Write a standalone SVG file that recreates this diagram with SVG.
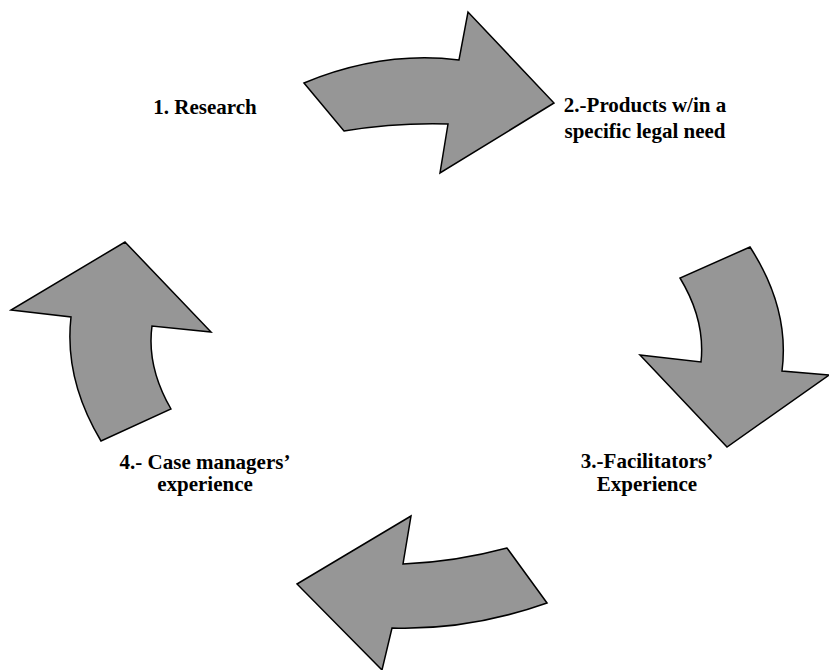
<svg xmlns="http://www.w3.org/2000/svg" width="829" height="670" viewBox="0 0 829 670">
<style>
.arrow{fill:#969696;stroke:#000;stroke-width:1.5;stroke-linejoin:miter}
.lbl{font-family:"Liberation Serif","Times New Roman",serif;font-weight:bold;font-size:21px;fill:#000;text-anchor:middle}
</style>
<rect width="829" height="670" fill="#fff"/>
<g id="connectors">
<path id="arrow1" class="arrow" d="M304,83 Q382.5,50.5 459,60 L468,12 L554,103 L440,173 L448,124 Q396,122.5 344,131 Z"/>
<path id="arrow2" class="arrow" d="M750,247 L680,278 Q705.5,320 701,362 L640,355 L727,447 L829,375 L782,371 Q790,309 750,247 Z"/>
<path id="arrow3" class="arrow" d="M411,516 L297,584 L382,670 L392,628 Q469,630.5 547,603 L507,548 Q455,562 403,564 Z"/>
<path id="arrow4" class="arrow" d="M125,242 L211,332 L152,326 Q146.5,366.5 171,409 L101,441 Q64,379 71,317 L11,310 Z"/>
</g>
<g id="node1"><text class="lbl" x="205" y="114">1. Research</text></g>
<g id="node2"><text class="lbl" x="645" y="112">2.-Products w/in a</text><text class="lbl" x="645" y="138">specific legal need</text></g>
<g id="node3"><text class="lbl" x="647" y="468">3.-Facilitators’</text><text class="lbl" x="647" y="491">Experience</text></g>
<g id="node4"><text class="lbl" x="205" y="469">4.- Case managers’</text><text class="lbl" x="205" y="491">experience</text></g>
</svg>
